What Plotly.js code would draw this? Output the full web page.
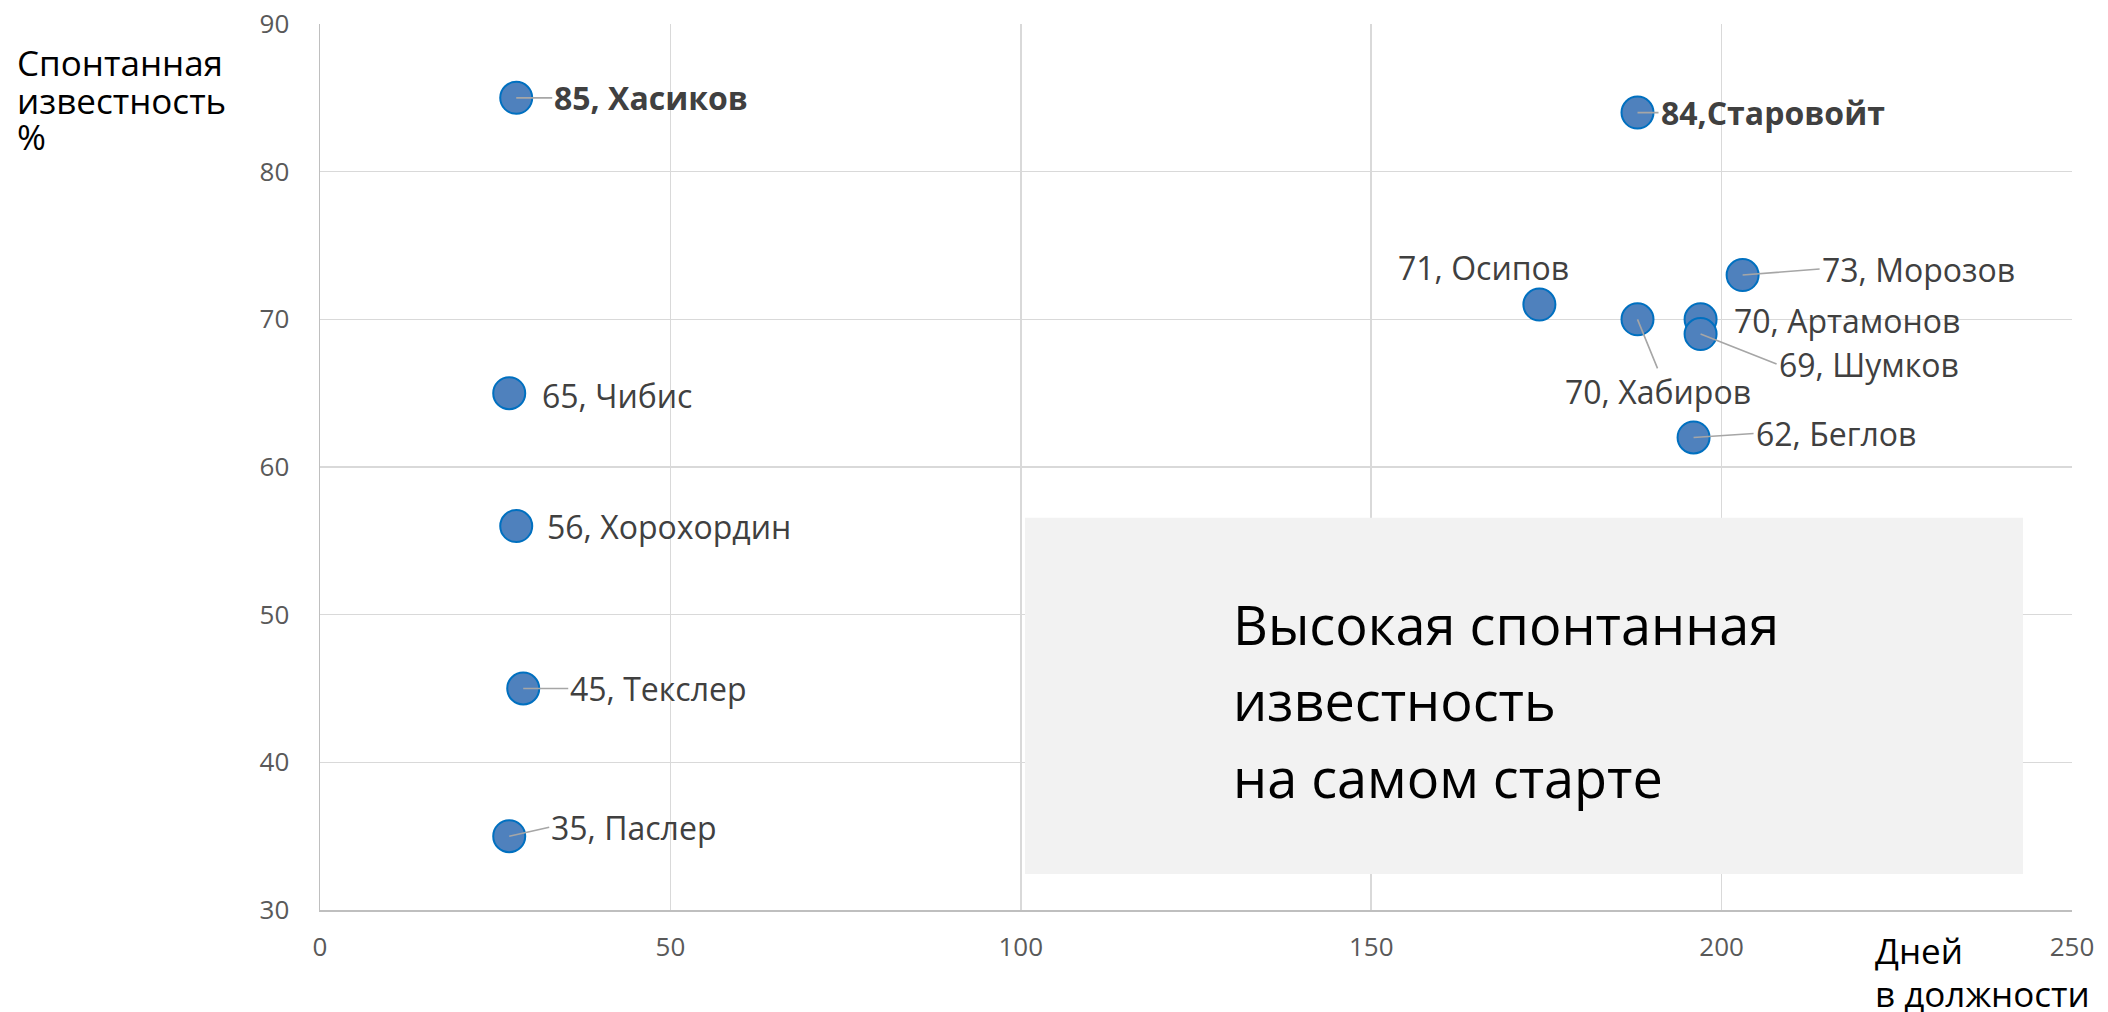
<!DOCTYPE html>
<html>
<head>
<meta charset="utf-8">
<script src="https://cdn.plot.ly/plotly-3.0.1.min.js"></script>
<style>
html, body { margin: 0; padding: 0; background: #ffffff; }
#chart { width: 2108px; height: 1012px; }
</style>
</head>
<body>
<div id="chart"></div>
<script>
// ---- data ----
const names = ['Хасиков', 'Старовойт', 'Осипов', 'Хабиров', 'Артамонов', 'Шумков', 'Морозов', 'Беглов', 'Чибис', 'Хорохордин', 'Текслер', 'Паслер'];
const days = [28, 188, 174, 188, 197, 197, 203, 196, 27, 28, 29, 27];
const awareness = [85, 84, 71, 70, 70, 69, 73, 62, 65, 56, 45, 35];
const labels = ['85, Хасиков', '84,Старовойт', '71, Осипов', '70, Хабиров', '70, Артамонов', '69, Шумков', '73, Морозов', '62, Беглов', '65, Чибис', '56, Хорохордин', '45, Текслер', '35, Паслер'];
const boldLabels = ['Хасиков', 'Старовойт'];
const xTicks = [0, 50, 100, 150, 200, 250];
const yTicks = [30, 40, 50, 60, 70, 80, 90];
const yTitleLines = ['Спонтанная', 'известность', '%'];
const xTitleLines = ['Дней', 'в должности'];
const boxLines = ['Высокая спонтанная', 'известность', 'на самом старте'];

// ---- label placement (pixel offsets, style only) ----
const placement = {
  'Хасиков':    {mode: 'arrow', ax: 36, ay: 0, xa: 'left', ya: 'middle'},
  'Старовойт':  {mode: 'arrow', ax: 21, ay: 0, xa: 'left', ya: 'middle'},
  'Осипов':     {mode: 'shift', dx: 32, dy: 37, xa: 'right', ya: 'middle'},
  'Хабиров':    {mode: 'arrow', ax: 20, ay: 49, xa: 'center', ya: 'top'},
  'Артамонов':  {mode: 'shift', dx: 31, dy: -1, xa: 'left', ya: 'middle'},
  'Шумков':     {mode: 'arrow', ax: 76, ay: 30, xa: 'left', ya: 'middle'},
  'Морозов':    {mode: 'arrow', ax: 77, ay: -6, xa: 'left', ya: 'middle'},
  'Беглов':     {mode: 'arrow', ax: 60, ay: -4, xa: 'left', ya: 'middle'},
  'Чибис':      {mode: 'shift', dx: 31, dy: -2, xa: 'left', ya: 'middle'},
  'Хорохордин': {mode: 'shift', dx: 29, dy: 0, xa: 'left', ya: 'middle'},
  'Текслер':    {mode: 'arrow', ax: 45, ay: 0, xa: 'left', ya: 'middle'},
  'Паслер':     {mode: 'arrow', ax: 40, ay: -9, xa: 'left', ya: 'middle'}
};

const FONT = 'Open Sans, Noto Sans, sans-serif';
const annotations = [];

names.forEach((n, i) => {
  const p = placement[n];
  const isBold = boldLabels.includes(n);
  const a = {
    x: days[i], y: awareness[i], xref: 'x', yref: 'y',
    text: isBold ? '<b>' + labels[i] + '</b>' : labels[i],
    font: {family: FONT, size: 32, color: '#404040'},
    xanchor: p.xa, yanchor: p.ya
  };
  if (p.mode === 'arrow') {
    a.showarrow = true; a.arrowhead = 0; a.arrowwidth = 1.6; a.arrowcolor = '#A6A6A6';
    a.ax = p.ax; a.ay = p.ay; a.standoff = 0; a.startstandoff = 0;
  } else {
    a.showarrow = false; a.xshift = p.dx; a.yshift = p.dy;
  }
  annotations.push(a);
});

// y-axis title (top-left)
const yTitleShift = [-38, -76, -112];
yTitleLines.forEach((t, i) => {
  annotations.push({
    xref: 'paper', yref: 'paper', x: 0, y: 1, xanchor: 'left', yanchor: 'middle',
    xshift: -305, yshift: yTitleShift[i], showarrow: false, text: t,
    font: {family: FONT, size: 35, color: '#000000'}
  });
});
// x-axis title (bottom-right)
const xTitleShift = [-40, -83];
xTitleLines.forEach((t, i) => {
  annotations.push({
    xref: 'paper', yref: 'paper', x: 1, y: 0, xanchor: 'left', yanchor: 'middle',
    xshift: -199, yshift: xTitleShift[i], showarrow: false, text: t,
    font: {family: FONT, size: 35, color: '#000000'}
  });
});
// box text
const boxY = [0.3228, 0.237, 0.150];
boxLines.forEach((t, i) => {
  annotations.push({
    xref: 'paper', yref: 'paper', x: 0.5225, y: boxY[i], xanchor: 'left', yanchor: 'middle',
    xshift: -4, showarrow: false, text: t,
    font: {family: FONT, size: 54, color: '#000000'}
  });
});

const trace = {
  type: 'scatter', mode: 'markers',
  x: days, y: awareness, text: names,
  marker: {size: 32, color: '#4F81BD', line: {color: '#0070C0', width: 2}},
  hoverinfo: 'text'
};

const layout = {
  width: 2108, height: 1012,
  margin: {l: 320, r: 36, t: 24, b: 102},
  paper_bgcolor: '#ffffff', plot_bgcolor: '#ffffff',
  showlegend: false,
  xaxis: {
    range: [0, 250], tickmode: 'array', tickvals: xTicks, ticktext: xTicks.map(String),
    showgrid: true, gridcolor: '#D9D9D9', gridwidth: 1.5, zeroline: false,
    showline: true, linecolor: '#BFBFBF', linewidth: 1.5, ticks: '',
    ticklabelstandoff: 13,
    tickfont: {family: FONT, size: 26, color: '#595959'}
  },
  yaxis: {
    range: [30, 90], tickmode: 'array', tickvals: yTicks, ticktext: yTicks.map(String),
    showgrid: true, gridcolor: '#D9D9D9', gridwidth: 1.5, zeroline: false,
    showline: true, linecolor: '#BFBFBF', linewidth: 1.5, ticks: '',
    ticklabelstandoff: 24,
    tickfont: {family: FONT, size: 26, color: '#595959'}
  },
  shapes: [{
    type: 'rect', xref: 'x', yref: 'y', x0: 100.6, x1: 243.0, y0: 32.43, y1: 56.57,
    fillcolor: '#F2F2F2', line: {width: 0}, layer: 'between'
  }],
  annotations: annotations
};

Plotly.newPlot('chart', [trace], layout, {displayModeBar: false, staticPlot: true});
</script>
</body>
</html>
